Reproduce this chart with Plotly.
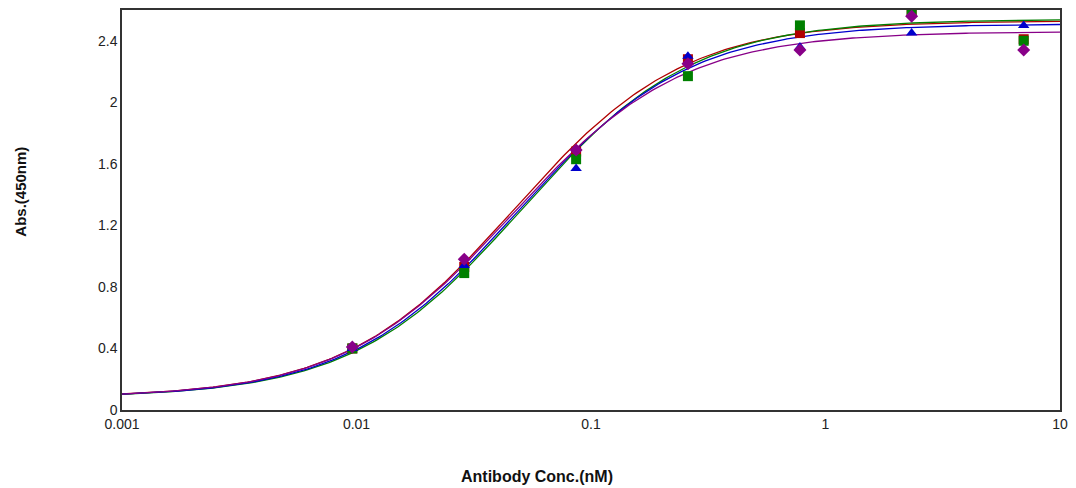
import numpy as np
import plotly.graph_objects as go

# Antibody concentrations (nM)
conc = [0.0096, 0.0288, 0.0864, 0.259, 0.778, 2.33, 7.0]

# Absorbance readings per series
red_abs = [0.40, 0.93, 1.68, 2.28, 2.45, 2.59, 2.41]
green_abs = [0.40, 0.89, 1.63, 2.17, 2.50, 2.59, 2.40]
blue_abs = [0.40, 0.94, 1.57, 2.30, 2.36, 2.45, 2.50]
purple_abs = [0.41, 0.98, 1.69, 2.25, 2.34, 2.56, 2.34]

# 4-parameter logistic fit parameters per series (bottom, top, EC50, hill)
series_names = ["Red", "Green", "Blue", "Purple"]
series_colors = ["#b00000", "#008000", "#0000cc", "#880088"]
series_symbols = ["square", "square", "triangle-up", "diamond"]
fit_bottom = [0.08, 0.08, 0.08, 0.08]
fit_top = [2.53, 2.54, 2.51, 2.46]
fit_ec50 = [0.047, 0.051, 0.049, 0.046]
fit_hill = [1.2, 1.2, 1.2, 1.2]

y_tickvals = [0, 0.4, 0.8, 1.2, 1.6, 2.0, 2.4]
y_ticktext = ["0", "0.4", "0.8", "1.2", "1.6", "2", "2.4"]
x_tickvals = [0.001, 0.01, 0.1, 1, 10]
x_ticktext = ["0.001", "0.01", "0.1", "1", "10"]

all_abs = [red_abs, green_abs, blue_abs, purple_abs]

fig = go.Figure()
xs = np.logspace(-3, 1, 300)
for i, name in enumerate(series_names):
    A, D, C, B = fit_bottom[i], fit_top[i], fit_ec50[i], fit_hill[i]
    ys = D + (A - D) / (1 + (xs / C) ** B)
    fig.add_trace(go.Scatter(x=xs, y=ys, mode="lines",
                             line=dict(color=series_colors[i], width=1.3),
                             showlegend=False, hoverinfo="skip"))
for i, name in enumerate(series_names):
    fig.add_trace(go.Scatter(x=conc, y=all_abs[i], mode="markers", name=name,
                             marker=dict(color=series_colors[i], symbol=series_symbols[i],
                                         size=10),
                             showlegend=False))

axis_line = dict(showline=True, linecolor="#333333", linewidth=1.5, mirror=True,
                 showgrid=False, zeroline=False, ticks="")

fig.update_xaxes(type="log", range=[-3, 1], tickvals=x_tickvals, ticktext=x_ticktext,
                 tickfont=dict(family="Liberation Sans, Arial", size=14, color="#222"),
                 **axis_line)
fig.update_yaxes(range=[0, 2.6], tickvals=y_tickvals, ticktext=y_ticktext,
                 tickfont=dict(family="Liberation Sans, Arial", size=14, color="#222"),
                 **axis_line)

fig.add_annotation(text="<b>Antibody Conc.(nM)</b>", xref="paper", yref="paper",
                   x=0.442, y=-0.167, showarrow=False, yanchor="middle",
                   font=dict(family="Liberation Sans, Arial", size=16, color="#111"))
fig.add_annotation(text="<b>Abs.(450nm)</b>", xref="paper", yref="paper",
                   x=-0.108, y=0.545, showarrow=False, textangle=-90, xanchor="center",
                   font=dict(family="Liberation Sans, Arial", size=15, color="#111"))

fig.update_layout(width=1076, height=488, margin=dict(l=122, r=13, t=8, b=78),
                  plot_bgcolor="white", paper_bgcolor="white", showlegend=False)

fig.write_html("out.html", config={"displayModeBar": False},
               post_script="document.body.style.margin='0';document.body.style.overflow='hidden';")
